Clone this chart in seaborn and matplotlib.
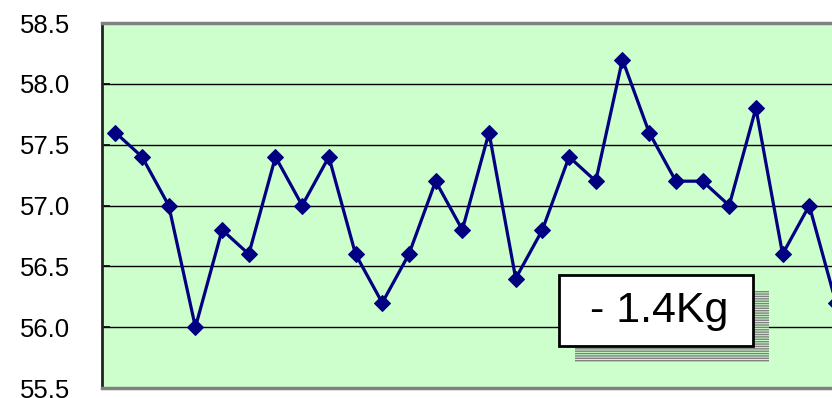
import matplotlib
matplotlib.use("Agg")
import matplotlib.pyplot as plt
from matplotlib.patches import Rectangle
import seaborn as sns
import pandas as pd

# --- Data ---
DAYS = list(range(28))
WEIGHT = [57.6, 57.4, 57.0, 56.0, 56.8, 56.6, 57.4, 57.0, 57.4, 56.6,
          56.2, 56.6, 57.2, 56.8, 57.6, 56.4, 56.8, 57.4, 57.2, 58.2,
          57.6, 57.2, 57.2, 57.0, 57.8, 56.6, 57.0, 56.2]
Y_TICKS = [55.5, 56.0, 56.5, 57.0, 57.5, 58.0, 58.5]
Y_LABELS = ["55.5", "56.0", "56.5", "57.0", "57.5", "58.0", "58.5"]
NOTE = "- 1.4Kg"

W, H = 832, 398

sns.set_theme(style="white")
plt.rcParams["font.family"] = ["Liberation Sans", "DejaVu Sans"]
plt.rcParams["hatch.linewidth"] = 1.0

df = pd.DataFrame({"day": DAYS, "weight": WEIGHT})

fig = plt.figure(figsize=(W / 100, H / 100), dpi=100)
fig.patch.set_facecolor("white")

# plot area runs past the right edge of the picture, like the original crop
ax = fig.add_axes([102 / W, 10 / H, 774 / W, 365 / H])
ax.set_facecolor("#CCFFCC")

sns.lineplot(data=df, x="day", y="weight", ax=ax, color="#000080",
             linewidth=2.3, marker="D", markersize=8,
             markeredgecolor="#000080", markerfacecolor="#000080",
             zorder=3)

ax.set_xlim(-0.5, 28.5)
ax.set_ylim(55.5, 58.5)
ax.set_yticks(Y_TICKS)
ax.set_yticklabels(Y_LABELS)
ax.set_xticks([])
ax.set_xlabel("")
ax.set_ylabel("")

ax.yaxis.grid(True, color="black", linewidth=1.0)
ax.set_axisbelow(True)
ax.tick_params(axis="y", direction="in", length=6, width=1.2, color="black",
               labelsize=18.5, pad=23, labelcolor="black", left=True)

ax.spines["left"].set_color("#222222")
ax.spines["left"].set_linewidth(2)
for s in ["top", "bottom", "right"]:
    ax.spines[s].set_color("#808080")
    ax.spines[s].set_linewidth(2.5)

# text box with hatched drop shadow
shadow = Rectangle((575 / W, 1 - 362 / H), 194 / W, 71 / H,
                   transform=fig.transFigure, facecolor="#CCFFCC",
                   edgecolor="#808080", hatch="-------", linewidth=0,
                   zorder=4)
fig.add_artist(shadow)
box = Rectangle((559 / W, 1 - 346 / H), 194 / W, 71 / H,
                transform=fig.transFigure, facecolor="white",
                edgecolor="black", linewidth=2, zorder=5)
fig.add_artist(box)
fig.text(659 / W, 1 - 311 / H, NOTE, ha="center", va="center",
         fontsize=31, color="black", zorder=6)

plt.savefig("out.png", dpi=100)
plt.close()
